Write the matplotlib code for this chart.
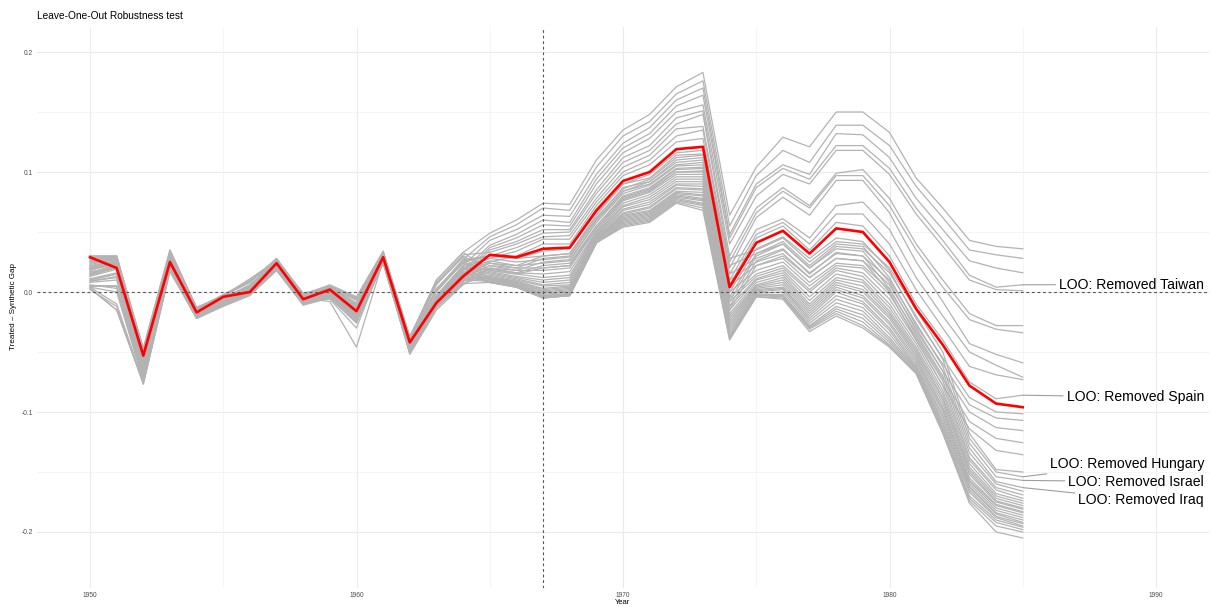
import matplotlib
matplotlib.use("Agg")
import matplotlib.pyplot as plt
from matplotlib.ticker import MultipleLocator, FixedLocator

plt.rcParams["font.family"] = ["Liberation Sans", "DejaVu Sans"]

years = list(range(1950, 1986))
treatment_year = 1967

# Gap between the treated unit and its synthetic control
treated_gap = [0.029, 0.020, -0.053, 0.025, -0.017, -0.004, 0.000, 0.024, -0.006, 0.002,
               -0.016, 0.029, -0.042, -0.009, 0.013, 0.031, 0.029, 0.036, 0.037, 0.068,
               0.0925, 0.100, 0.119, 0.121, 0.004, 0.041, 0.051, 0.032, 0.053, 0.050,
               0.025, -0.014, -0.044, -0.078, -0.093, -0.096]

# Leave-one-out gaps, one row per donor left out (1950-1985)
loo_gaps = [
    [0.030, 0.030, -0.047, 0.035, -0.013, -0.003, 0.008, 0.028, -0.002, 0.005, -0.005, 0.033, -0.038, 0.010, 0.033,
     0.049, 0.060, 0.074, 0.073, 0.110, 0.135, 0.148, 0.171, 0.183, 0.064, 0.104, 0.129, 0.121, 0.150, 0.150, 0.133, 0.095, 0.070, 0.043, 0.038, 0.036],
    [0.025, 0.028, -0.058, 0.030, -0.015, -0.005, 0.005, 0.026, -0.004, 0.004, -0.010, 0.031, -0.040, 0.002, 0.027,
     0.046, 0.056, 0.070, 0.068, 0.104, 0.130, 0.142, 0.165, 0.176, 0.055, 0.097, 0.118, 0.108, 0.139, 0.139, 0.122, 0.088, 0.062, 0.035, 0.031, 0.028],
    [0.020, 0.025, -0.062, 0.028, -0.018, -0.007, 0.003, 0.025, -0.006, 0.002, -0.013, 0.030, -0.043, -0.003, 0.022,
     0.043, 0.052, 0.064, 0.063, 0.098, 0.124, 0.137, 0.160, 0.170, 0.048, 0.090, 0.106, 0.098, 0.132, 0.131, 0.112, 0.078, 0.052, 0.026, 0.020, 0.016],
    [0.015, 0.022, -0.066, 0.026, -0.019, -0.008, 0.002, 0.024, -0.007, 0.001, -0.016, 0.029, -0.045, -0.006, 0.018,
     0.039, 0.048, 0.060, 0.058, 0.094, 0.120, 0.132, 0.155, 0.164, 0.045, 0.087, 0.103, 0.094, 0.122, 0.122, 0.103, 0.070, 0.043, 0.014, 0.004, 0.006],
    [0.010, 0.015, -0.070, 0.023, -0.020, -0.009, 0.001, 0.022, -0.008, 0.000, -0.019, 0.028, -0.047, -0.008, 0.015,
     0.037, 0.045, 0.056, 0.055, 0.090, 0.116, 0.128, 0.150, 0.156, 0.040, 0.080, 0.098, 0.090, 0.118, 0.118, 0.098, 0.065, 0.038, 0.010, 0.002, 0.001],
    [0.005, 0.005, -0.073, 0.021, -0.021, -0.010, -0.001, 0.021, -0.009, -0.002, -0.022, 0.027, -0.048, -0.010, 0.012,
     0.035, 0.042, 0.052, 0.052, 0.085, 0.112, 0.122, 0.145, 0.151, 0.030, 0.070, 0.087, 0.072, 0.099, 0.102, 0.078, 0.040, 0.010, -0.018, -0.028, -0.028],
    [0.029, 0.029, -0.049, 0.033, -0.014, -0.004, 0.010, 0.027, -0.001, 0.004, -0.006, 0.034, -0.037, 0.008, 0.031,
     0.033, 0.040, 0.049, 0.050, 0.082, 0.108, 0.118, 0.140, 0.148, 0.025, 0.066, 0.084, 0.070, 0.097, 0.097, 0.072, 0.035, 0.004, -0.023, -0.031, -0.034],
    [0.024, 0.027, -0.056, 0.031, -0.016, -0.005, 0.006, 0.027, -0.003, 0.003, -0.009, 0.032, -0.041, 0.000, 0.025,
     0.030, 0.037, 0.046, 0.047, 0.078, 0.104, 0.114, 0.136, 0.138, 0.020, 0.062, 0.079, 0.064, 0.093, 0.093, 0.066, 0.025, -0.008, -0.043, -0.052, -0.059],
    [0.019, 0.024, -0.064, 0.027, -0.017, -0.006, 0.004, 0.024, -0.005, 0.001, -0.014, 0.031, -0.044, -0.004, 0.020,
     0.028, 0.034, 0.044, 0.044, 0.075, 0.100, 0.110, 0.130, 0.135, 0.015, 0.052, 0.061, 0.045, 0.072, 0.075, 0.052, 0.012, -0.020, -0.050, -0.061, -0.071],
    [0.014, 0.021, -0.067, 0.025, -0.018, -0.007, 0.003, 0.023, -0.008, 0.000, -0.017, 0.028, -0.046, -0.007, 0.016,
     0.025, 0.030, 0.040, 0.040, 0.072, 0.097, 0.106, 0.125, 0.128, 0.010, 0.048, 0.058, 0.040, 0.065, 0.065, 0.040, 0.002, -0.030, -0.062, -0.069, -0.073],
    [0.026, 0.029, -0.057, 0.029, -0.016, -0.004, 0.004, 0.025, -0.004, 0.003, -0.011, 0.030, -0.041, 0.001, 0.026,
     0.030, 0.028, 0.034, 0.036, 0.066, 0.090, 0.098, 0.116, 0.118, 0.006, 0.045, 0.055, 0.035, 0.058, 0.055, 0.030, -0.010, -0.040, -0.075, -0.089, -0.086],
    [0.011, 0.016, -0.069, 0.024, -0.019, -0.008, 0.000, 0.023, -0.007, 0.001, -0.018, 0.029, -0.046, -0.009, 0.014,
     0.024, 0.022, 0.030, 0.032, 0.062, 0.086, 0.094, 0.112, 0.114, 0.000, 0.036, 0.046, 0.028, 0.045, 0.042, 0.018, -0.022, -0.055, -0.088, -0.100, -0.1015],
    [0.005, 0.005, -0.073, 0.021, -0.021, -0.010, -0.001, 0.021, -0.009, -0.002, -0.022, 0.027, -0.048, -0.010, 0.012,
     0.022, 0.020, 0.028, 0.030, 0.060, 0.084, 0.092, 0.108, 0.110, -0.004, 0.032, 0.042, 0.022, 0.040, 0.038, 0.012, -0.028, -0.060, -0.094, -0.105, -0.107],
    [0.003, -0.015, -0.076, 0.018, -0.022, -0.011, -0.002, 0.019, -0.010, -0.004, -0.025, 0.025, -0.050, -0.012, 0.009,
     0.020, 0.018, 0.025, 0.027, 0.058, 0.082, 0.089, 0.105, 0.106, -0.008, 0.030, 0.040, 0.020, 0.036, 0.034, 0.008, -0.032, -0.066, -0.100, -0.113, -0.1155],
    [0.018, 0.024, -0.060, 0.027, -0.016, -0.006, 0.004, 0.023, -0.005, -0.008, -0.046, 0.026, -0.052, -0.015, 0.006,
     0.019, 0.016, 0.022, 0.024, 0.055, 0.079, 0.086, 0.102, 0.103, -0.012, 0.026, 0.035, 0.016, 0.032, 0.030, 0.003, -0.036, -0.072, -0.108, -0.122, -0.1256],
    [0.028, 0.030, -0.050, 0.032, -0.013, -0.003, 0.011, 0.026, -0.003, 0.003, -0.007, 0.032, -0.039, 0.006, 0.030,
     0.018, 0.015, 0.020, 0.022, 0.053, 0.077, 0.084, 0.100, 0.100, -0.015, 0.022, 0.030, 0.012, 0.028, 0.026, 0.000, -0.040, -0.078, -0.114, -0.132, -0.1356],
    [0.025, 0.028, -0.058, 0.030, -0.015, -0.005, 0.005, 0.026, -0.004, 0.004, -0.010, 0.031, -0.040, 0.002, 0.027,
     0.030, 0.028, 0.030, 0.032, 0.064, 0.090, 0.095, 0.114, 0.115, 0.028, 0.035, 0.045, 0.025, 0.042, 0.040, 0.020, -0.015, -0.050, -0.118, -0.148, -0.150],
    [0.020, 0.025, -0.062, 0.028, -0.018, -0.007, 0.003, 0.025, -0.006, 0.002, -0.013, 0.030, -0.043, -0.003, 0.022,
     0.028, 0.025, 0.027, 0.029, 0.061, 0.087, 0.092, 0.110, 0.112, 0.022, 0.032, 0.040, 0.020, 0.038, 0.036, 0.016, -0.020, -0.056, -0.122, -0.150, -0.154],
    [0.015, 0.022, -0.066, 0.026, -0.019, -0.008, 0.002, 0.024, -0.007, 0.001, -0.016, 0.029, -0.045, -0.006, 0.018,
     0.026, 0.022, 0.024, 0.026, 0.058, 0.084, 0.090, 0.106, 0.108, 0.015, 0.028, 0.036, 0.015, 0.033, 0.030, 0.010, -0.026, -0.062, -0.126, -0.154, -0.157],
    [0.010, 0.015, -0.070, 0.023, -0.020, -0.009, 0.001, 0.022, -0.008, 0.000, -0.019, 0.028, -0.047, -0.008, 0.015,
     0.024, 0.020, 0.020, 0.022, 0.055, 0.080, 0.087, 0.103, 0.104, 0.010, 0.025, 0.032, 0.012, 0.028, 0.026, 0.006, -0.030, -0.066, -0.130, -0.158, -0.163],
    [0.005, 0.005, -0.073, 0.021, -0.021, -0.010, -0.001, 0.021, -0.009, -0.002, -0.022, 0.027, -0.048, -0.010, 0.012,
     0.022, 0.018, 0.018, 0.020, 0.053, 0.078, 0.085, 0.100, 0.101, 0.005, 0.022, 0.028, 0.008, 0.024, 0.022, 0.002, -0.034, -0.070, -0.134, -0.160, -0.166],
    [0.003, -0.015, -0.076, 0.018, -0.022, -0.011, -0.002, 0.019, -0.010, -0.004, -0.025, 0.025, -0.050, -0.012, 0.009,
     0.020, 0.016, 0.015, 0.017, 0.051, 0.076, 0.083, 0.098, 0.098, 0.000, 0.018, 0.025, 0.005, 0.022, 0.020, -0.002, -0.038, -0.074, -0.138, -0.163, -0.169],
    [0.030, 0.030, -0.047, 0.035, -0.013, -0.003, 0.008, 0.028, -0.002, 0.005, -0.005, 0.033, -0.038, 0.010, 0.033,
     0.018, 0.015, 0.012, 0.014, 0.050, 0.074, 0.081, 0.096, 0.096, -0.005, 0.015, 0.022, 0.002, 0.020, 0.016, -0.006, -0.040, -0.078, -0.140, -0.165, -0.172],
    [0.023, 0.027, -0.060, 0.029, -0.014, -0.006, 0.006, 0.025, -0.005, 0.005, -0.011, 0.032, -0.041, 0.003, 0.025,
     0.017, 0.013, 0.010, 0.012, 0.049, 0.072, 0.079, 0.094, 0.094, -0.008, 0.013, 0.020, 0.000, 0.018, 0.013, -0.010, -0.043, -0.082, -0.143, -0.168, -0.174],
    [0.021, 0.026, -0.063, 0.027, -0.017, -0.008, 0.004, 0.026, -0.006, 0.001, -0.012, 0.029, -0.042, -0.004, 0.021,
     0.016, 0.012, 0.008, 0.010, 0.048, 0.071, 0.077, 0.092, 0.092, -0.012, 0.011, 0.018, -0.004, 0.015, 0.010, -0.013, -0.046, -0.085, -0.146, -0.170, -0.176],
    [0.016, 0.023, -0.067, 0.025, -0.020, -0.007, 0.001, 0.023, -0.008, 0.002, -0.015, 0.030, -0.044, -0.005, 0.019,
     0.015, 0.011, 0.006, 0.008, 0.047, 0.069, 0.075, 0.090, 0.090, -0.015, 0.010, 0.016, -0.007, 0.012, 0.008, -0.016, -0.048, -0.088, -0.148, -0.172, -0.178],
    [0.009, 0.013, -0.071, 0.022, -0.021, -0.009, 0.002, 0.021, -0.009, -0.001, -0.020, 0.027, -0.047, -0.009, 0.014,
     0.014, 0.010, 0.005, 0.006, 0.046, 0.068, 0.073, 0.089, 0.088, -0.018, 0.008, 0.014, -0.010, 0.010, 0.005, -0.018, -0.050, -0.090, -0.150, -0.174, -0.180],
    [0.006, 0.003, -0.074, 0.020, -0.020, -0.011, -0.002, 0.020, -0.010, -0.003, -0.021, 0.026, -0.049, -0.011, 0.011,
     0.013, 0.009, 0.003, 0.005, 0.045, 0.066, 0.071, 0.087, 0.086, -0.020, 0.006, 0.012, -0.012, 0.008, 0.002, -0.020, -0.052, -0.093, -0.152, -0.175, -0.181],
    [0.004, -0.010, -0.075, 0.019, -0.022, -0.012, -0.003, 0.018, -0.011, -0.005, -0.024, 0.024, -0.051, -0.013, 0.008,
     0.012, 0.009, 0.002, 0.004, 0.045, 0.065, 0.070, 0.086, 0.085, -0.022, 0.005, 0.010, -0.014, 0.006, 0.000, -0.022, -0.054, -0.096, -0.155, -0.177, -0.183],
    [0.017, 0.020, -0.062, 0.026, -0.017, -0.007, 0.003, 0.022, -0.006, -0.006, -0.030, 0.027, -0.050, -0.011, 0.010,
     0.012, 0.008, 0.001, 0.003, 0.044, 0.064, 0.068, 0.084, 0.083, -0.024, 0.004, 0.008, -0.016, 0.004, -0.003, -0.025, -0.056, -0.098, -0.157, -0.178, -0.184],
    [0.027, 0.029, -0.052, 0.033, -0.014, -0.002, 0.009, 0.027, -0.002, 0.006, -0.004, 0.034, -0.039, 0.007, 0.029,
     0.011, 0.008, 0.000, 0.002, 0.044, 0.063, 0.067, 0.083, 0.081, -0.026, 0.003, 0.006, -0.018, 0.002, -0.005, -0.027, -0.058, -0.100, -0.158, -0.180, -0.186],
    [0.022, 0.026, -0.059, 0.029, -0.016, -0.006, 0.005, 0.025, -0.004, 0.003, -0.012, 0.030, -0.042, 0.001, 0.024,
     0.011, 0.007, -0.001, 0.001, 0.043, 0.062, 0.066, 0.082, 0.080, -0.028, 0.002, 0.004, -0.020, 0.000, -0.008, -0.030, -0.060, -0.103, -0.160, -0.182, -0.188],
    [0.019, 0.023, -0.063, 0.027, -0.018, -0.006, 0.003, 0.024, -0.006, 0.002, -0.014, 0.029, -0.043, -0.004, 0.020,
     0.010, 0.007, -0.002, 0.000, 0.043, 0.061, 0.065, 0.081, 0.078, -0.030, 0.001, 0.003, -0.022, -0.003, -0.010, -0.032, -0.062, -0.105, -0.162, -0.184, -0.190],
    [0.014, 0.020, -0.068, 0.025, -0.019, -0.008, 0.002, 0.023, -0.007, 0.000, -0.017, 0.028, -0.045, -0.007, 0.017,
     0.010, 0.006, -0.003, -0.001, 0.042, 0.060, 0.064, 0.080, 0.077, -0.032, 0.000, 0.002, -0.024, -0.006, -0.013, -0.035, -0.063, -0.108, -0.163, -0.185, -0.192],
    [0.008, 0.010, -0.072, 0.022, -0.020, -0.009, 0.000, 0.022, -0.008, -0.001, -0.020, 0.027, -0.047, -0.009, 0.013,
     0.009, 0.006, -0.003, -0.002, 0.042, 0.059, 0.063, 0.079, 0.076, -0.034, -0.001, 0.000, -0.026, -0.009, -0.016, -0.038, -0.064, -0.110, -0.165, -0.187, -0.193],
    [0.004, 0.000, -0.074, 0.020, -0.021, -0.010, -0.001, 0.020, -0.009, -0.003, -0.023, 0.026, -0.049, -0.011, 0.010,
     0.009, 0.005, -0.004, -0.002, 0.041, 0.058, 0.062, 0.078, 0.074, -0.036, -0.002, -0.002, -0.028, -0.012, -0.019, -0.040, -0.065, -0.112, -0.167, -0.188, -0.195],
    [0.002, -0.012, -0.077, 0.017, -0.022, -0.011, -0.002, 0.018, -0.010, -0.005, -0.026, 0.024, -0.051, -0.013, 0.007,
     0.008, 0.005, -0.004, -0.003, 0.041, 0.057, 0.061, 0.077, 0.073, -0.037, -0.003, -0.003, -0.029, -0.014, -0.022, -0.042, -0.066, -0.114, -0.170, -0.190, -0.196],
    [0.020, 0.024, -0.061, 0.028, -0.017, -0.007, 0.004, 0.025, -0.005, 0.002, -0.012, 0.030, -0.044, -0.003, 0.021,
     0.008, 0.004, -0.005, -0.003, 0.041, 0.056, 0.060, 0.076, 0.072, -0.038, -0.003, -0.004, -0.030, -0.016, -0.025, -0.044, -0.067, -0.115, -0.172, -0.192, -0.198],
    [0.013, 0.019, -0.066, 0.025, -0.018, -0.008, 0.001, 0.023, -0.007, 0.000, -0.016, 0.028, -0.045, -0.006, 0.016,
     0.008, 0.004, -0.005, -0.003, 0.041, 0.055, 0.059, 0.075, 0.070, -0.039, -0.004, -0.005, -0.031, -0.018, -0.028, -0.045, -0.068, -0.117, -0.174, -0.195, -0.200],
    [0.009, 0.012, -0.070, 0.023, -0.020, -0.009, 0.001, 0.021, -0.008, -0.001, -0.019, 0.028, -0.047, -0.008, 0.014,
     0.008, 0.004, -0.005, -0.003, 0.041, 0.054, 0.058, 0.074, 0.068, -0.040, -0.004, -0.006, -0.033, -0.020, -0.030, -0.046, -0.068, -0.118, -0.176, -0.200, -0.205],
]

# Donors whose leave-one-out run is annotated (row in loo_gaps)
labelled_donors = {"Taiwan": 3, "Spain": 10, "Hungary": 17, "Israel": 18, "Iraq": 19}

title = "Leave-One-Out Robustness test"
x_title = "Year"
y_title = "Treated \u2013 Synthetic Gap"
x_ticks = [1950, 1960, 1970, 1980, 1990]
y_ticks = [-0.2, -0.1, 0.0, 0.1, 0.2]
y_tick_labels = ["-0.2", "-0.1", "0.0", "0.1", "0.2"]

W, H = 1214, 607
fig = plt.figure(figsize=(W / 100, H / 100), dpi=100)
ax = fig.add_axes([36.7 / W, 19.5 / H, (1209.3 - 36.7) / W, (587.5 - 26.5) / H])

ax.set_xlim(1948, 1992)
ax.set_ylim(-0.24625, 0.22125)

for s in ax.spines.values():
    s.set_visible(False)

ax.xaxis.set_major_locator(FixedLocator(x_ticks))
ax.xaxis.set_minor_locator(MultipleLocator(5))
ax.yaxis.set_major_locator(FixedLocator(y_ticks))
ax.yaxis.set_minor_locator(MultipleLocator(0.05))
ax.set_yticklabels(y_tick_labels)
ax.tick_params(which="both", length=0)
ax.tick_params(axis="both", labelsize=4.8, labelcolor="#4D4D4D")
ax.tick_params(axis="x", pad=3.0)
ax.tick_params(axis="y", pad=2.6)
ax.grid(which="major", color="#EBEBEB", lw=0.8)
ax.grid(which="minor", color="#F2F2F2", lw=0.5)
ax.set_axisbelow(True)

for row in loo_gaps:
    ax.plot(years, row, color="#B3B3B3", lw=0.9, zorder=2, solid_joinstyle="round")

ax.axhline(0, color="#555555", lw=0.8, ls=(0, (2.5, 2.5)), zorder=3)
ax.axvline(treatment_year, color="#555555", lw=0.8, ls=(0, (2.5, 2.5)), zorder=3)

ax.plot(years, treated_gap, color="#FF0000", lw=1.9, zorder=4, solid_joinstyle="round")

# Repelled labels placed to the right of the series ends
label_x = 1991.8
label_y = {"Taiwan": 0.0062, "Spain": -0.0875, "Hungary": -0.1433,
           "Israel": -0.158, "Iraq": -0.1733}
for name, row_idx in labelled_donors.items():
    ax.annotate(f"LOO: Removed {name}",
                xy=(years[-1], loo_gaps[row_idx][-1]),
                xytext=(label_x, label_y[name]),
                ha="right", va="center", fontsize=10.1, color="black",
                annotation_clip=False, zorder=5,
                arrowprops=dict(arrowstyle="-", color="#9E9E9E", lw=0.8,
                                shrinkA=0.5, shrinkB=0))

fig.text(36.7 / W, 1 - 16 / H, title, ha="left", va="center", fontsize=7.3, color="black")
fig.text((36.7 + 1209.3) / 2 / W, 1 - 603 / H, x_title, ha="center", va="center",
         fontsize=5.5, color="black")
fig.text(14 / W, 1 - 307 / H, y_title, ha="center", va="center", rotation=90,
         fontsize=5.8, color="black")

fig.savefig("out.png", dpi=100, facecolor="white")
